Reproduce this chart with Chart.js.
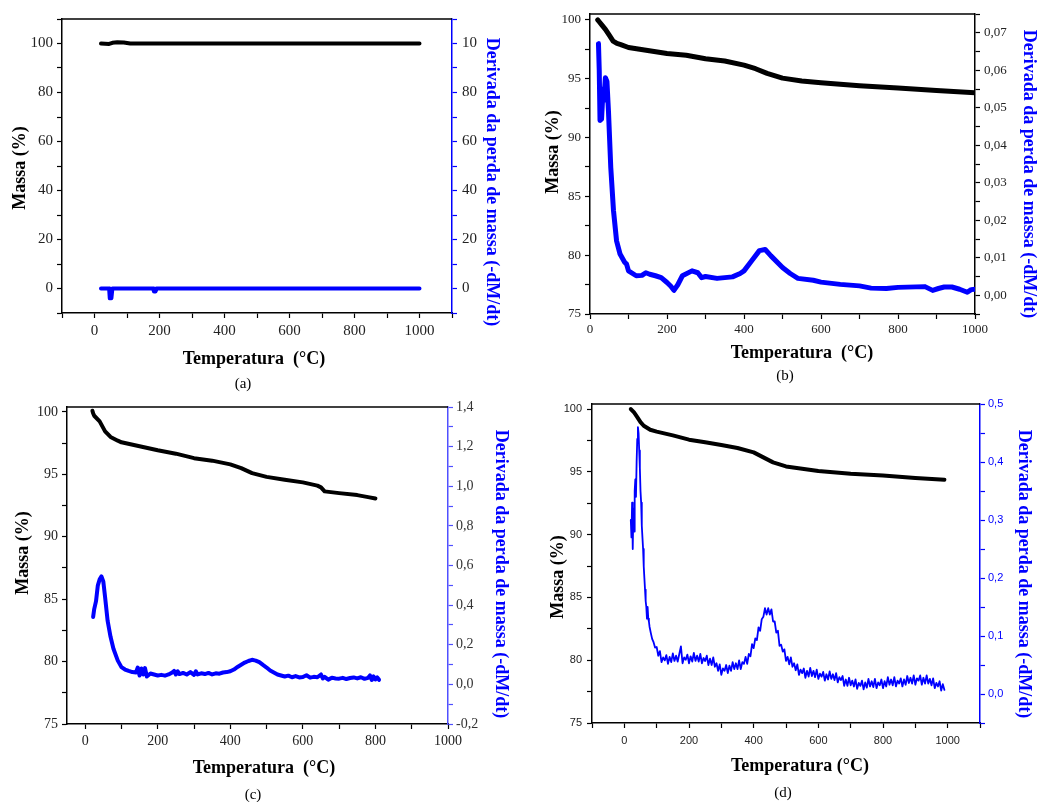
<!DOCTYPE html>
<html>
<head>
<meta charset="utf-8">
<script src="https://cdn.jsdelivr.net/npm/chart.js@4.4.1/dist/chart.umd.min.js"></script>
<style>
    body { margin: 0; background: #fff; width: 1040px; height: 802px; position: relative; overflow: hidden; font-family: "Liberation Serif", serif; }
    canvas { position: absolute; }
    .t { position: absolute; white-space: pre; transform: translate(-50%, -50%); font-weight: bold; font-size: 18px; color: #000; }
    .l { transform: translate(-50%, -50%) rotate(-90deg); }
    .r { transform: translate(-50%, -50%) rotate(90deg); color: #0000ff; }
    .cap { position: absolute; transform: translate(-50%, -50%); font-size: 15px; color: #000; }
</style>
</head>
<body>
<canvas id="chartA" width="520" height="350" style="left:0;top:0"></canvas>
<canvas id="chartB" width="520" height="350" style="left:520px;top:0"></canvas>
<canvas id="chartC" width="520" height="370" style="left:0;top:390px"></canvas>
<canvas id="chartD" width="520" height="370" style="left:520px;top:390px"></canvas>

<div class="t" style="left:254px;top:358px">Temperatura  (°C)</div>
<div class="cap" style="left:243px;top:383px">(a)</div>
<div class="t l" style="left:19px;top:168px">Massa (%)</div>
<div class="t r" style="left:492px;top:182px">Derivada da perda de massa (-dM/dt)</div>

<div class="t" style="left:802px;top:352px">Temperatura  (°C)</div>
<div class="cap" style="left:785px;top:375px">(b)</div>
<div class="t l" style="left:552px;top:152px">Massa (%)</div>
<div class="t r" style="left:1029px;top:174px">Derivada da perda de massa (-dM/dt)</div>

<div class="t" style="left:264px;top:767px">Temperatura  (°C)</div>
<div class="cap" style="left:253px;top:794px">(c)</div>
<div class="t l" style="left:22px;top:553px">Massa (%)</div>
<div class="t r" style="left:501px;top:574px">Derivada da perda de massa (-dM/dt)</div>

<div class="t" style="left:800px;top:765px">Temperatura (°C)</div>
<div class="cap" style="left:783px;top:792px">(d)</div>
<div class="t l" style="left:557px;top:577px">Massa (%)</div>
<div class="t r" style="left:1024px;top:574px">Derivada da perda de massa (-dM/dt)</div>

<script>
// (a)
const aMassTemp = [20, 45, 55, 70, 90, 110, 200, 400, 600, 800, 1000];
const aMass = [100, 99.8, 100.3, 100.5, 100.4, 100, 100, 100, 100, 100, 100];
const aDerivTemp = [20, 45, 47, 52, 55, 180, 183, 188, 191, 400, 600, 800, 1000];
const aDeriv = [0, 0, -4, -4, 0, 0, -1.2, -1.2, 0, 0, 0, 0, 0];

// (b)
const bMassTemp = [20, 25, 30, 40, 50, 60, 70, 80, 100, 150, 200, 250, 300, 350, 400, 430, 460, 500, 550, 600, 700, 800, 900, 1000];
const bMass = [100, 99.8, 99.6, 99.2, 98.7, 98.2, 98.0, 97.9, 97.65, 97.4, 97.15, 97.0, 96.7, 96.5, 96.15, 95.85, 95.45, 95.05, 94.8, 94.65, 94.4, 94.2, 94.0, 93.8];
const bDerivTemp = [22, 24, 26, 30, 34, 36, 40, 44, 48, 54, 61, 69, 78, 90, 95, 100, 120, 135, 145, 155,
    170, 185, 200, 210, 218, 228, 240, 265, 280, 290, 300, 330, 370, 390, 400, 420, 440, 455, 470, 500,
    520, 540, 580, 600, 650, 700, 730, 770, 800, 870, 890, 905, 920, 940, 960, 980, 990, 1000];
const bDeriv = [0.0671, 0.060, 0.0466, 0.047, 0.055, 0.052, 0.058, 0.057, 0.049, 0.034, 0.0226, 0.0145, 0.011, 0.0088, 0.0083, 0.0065, 0.0052, 0.0053, 0.006, 0.0056,
    0.0052, 0.0047, 0.0034, 0.0024, 0.0013, 0.0028, 0.0052, 0.0065, 0.006, 0.0047, 0.005, 0.0045, 0.0049, 0.0058, 0.0065, 0.0092, 0.0119, 0.0122, 0.0105, 0.0074,
    0.0058, 0.0045, 0.0040, 0.0035, 0.0029, 0.0025, 0.0019, 0.0018, 0.0021, 0.0023, 0.0013, 0.0018, 0.0022, 0.0022, 0.0016, 0.0008, 0.0015, 0.0016];

// (c)
const cMassTemp = [20, 22, 25, 40, 55, 70, 90, 100, 150, 200, 250, 300, 350, 400, 430, 460, 500, 550, 600, 640, 650, 660, 700, 750, 780, 800];
const cMass = [100.1, 99.9, 99.7, 99.25, 98.45, 98.0, 97.7, 97.57, 97.25, 96.93, 96.66, 96.3, 96.1, 95.8, 95.5, 95.1, 94.8, 94.57, 94.36, 94.1, 93.96, 93.64, 93.5, 93.34, 93.18, 93.07];
const cDerivTemp = [22, 25, 30, 35, 40, 45, 50, 55, 62, 70,
    78, 90, 100, 110, 120, 130, 140, 145, 150, 155,
    160, 165, 170, 180, 190, 200, 210, 220, 230, 240,
    245, 250, 255, 260, 270, 280, 290, 300, 305, 310,
    320, 330, 340, 350, 360, 370, 380, 390, 400, 410,
    420, 430, 440, 450, 460, 470, 480, 490, 500, 510,
    520, 530, 540, 550, 560, 570, 580, 590, 600, 610,
    620, 630, 640, 650, 655, 660, 670, 680, 690, 700,
    710, 720, 730, 740, 750, 760, 770, 780, 785, 790,
    795, 800, 805, 810];
const cDeriv = [0.34, 0.38, 0.42, 0.50, 0.53, 0.545, 0.52, 0.44, 0.32, 0.24,
    0.18, 0.12, 0.087, 0.075, 0.068, 0.062, 0.06, 0.085, 0.045, 0.08,
    0.05, 0.082, 0.04, 0.055, 0.05, 0.045, 0.048, 0.044, 0.05, 0.06,
    0.068, 0.05, 0.066, 0.052, 0.058, 0.05, 0.062, 0.048, 0.066, 0.05,
    0.056, 0.052, 0.058, 0.05, 0.056, 0.054, 0.06, 0.062, 0.066, 0.075,
    0.088, 0.099, 0.11, 0.118, 0.124, 0.12, 0.112, 0.098, 0.085, 0.07,
    0.06, 0.05, 0.045, 0.04, 0.044, 0.036, 0.042, 0.035, 0.037, 0.046,
    0.034, 0.038, 0.036, 0.05, 0.03, 0.038, 0.024, 0.034, 0.03, 0.029,
    0.033, 0.027, 0.032, 0.035, 0.03, 0.036, 0.028, 0.033, 0.045, 0.022,
    0.04, 0.025, 0.035, 0.023];

// (d)
const dMassTemp = [20, 30, 40, 50, 60, 80, 100, 150, 200, 250, 300, 350, 400, 430, 460, 500, 550, 600, 700, 800, 900, 990];
const dMass = [100, 99.73, 99.36, 98.96, 98.67, 98.35, 98.2, 97.9, 97.56, 97.35, 97.13, 96.9, 96.55, 96.15, 95.75, 95.43, 95.25, 95.06, 94.85, 94.7, 94.5, 94.37];
const dDerivTemp = [20, 22, 24, 26, 28, 30, 32, 34, 36, 38, 40, 42, 44, 46, 48, 50, 52, 54, 56, 58,
    60, 62, 64, 66, 68, 70, 72, 74, 76, 78, 82, 86, 90, 95,
    100, 105, 110, 115, 120, 125, 130, 135, 140, 145,
    150, 155, 160, 165, 170, 175, 180, 185, 190, 195,
    200, 205, 210, 215, 220, 225, 230, 235, 240, 245,
    250, 255, 260, 265, 270, 275, 280, 285, 290, 295,
    300, 305, 310, 315, 320, 325, 330, 335, 340, 345,
    350, 355, 360, 365, 370, 375, 380, 385, 390, 395,
    400, 405, 410, 415, 420, 425, 430, 435, 440, 445,
    450, 455, 460, 465, 470, 475, 480, 485, 490, 495,
    500, 505, 510, 515, 520, 525, 530, 535, 540, 545,
    550, 555, 560, 565, 570, 575, 580, 585, 590, 595,
    600, 605, 610, 615, 620, 625, 630, 635, 640, 645,
    650, 655, 660, 665, 670, 675, 680, 685, 690, 695,
    700, 705, 710, 715, 720, 725, 730, 735, 740, 745,
    750, 755, 760, 765, 770, 775, 780, 785, 790, 795,
    800, 805, 810, 815, 820, 825, 830, 835, 840, 845,
    850, 855, 860, 865, 870, 875, 880, 885, 890, 895,
    900, 905, 910, 915, 920, 925, 930, 935, 940, 945,
    950, 955, 960, 965, 970, 975, 980, 985, 990];
const dDeriv = [0.30, 0.27, 0.33, 0.25, 0.32, 0.28, 0.35, 0.37, 0.34, 0.40, 0.44, 0.46, 0.45, 0.42, 0.39, 0.35, 0.33, 0.29, 0.27, 0.25,
    0.22, 0.20, 0.18, 0.16, 0.15, 0.13, 0.15, 0.13, 0.125, 0.116, 0.105, 0.095, 0.09, 0.08,
    0.081, 0.066, 0.074, 0.055, 0.063, 0.058, 0.067, 0.052, 0.064, 0.055,
    0.070, 0.057, 0.066, 0.056, 0.069, 0.082, 0.053, 0.063, 0.059, 0.068,
    0.053, 0.065, 0.056, 0.071, 0.057, 0.066, 0.056, 0.069, 0.053, 0.062,
    0.057, 0.066, 0.050, 0.061, 0.050, 0.063, 0.047, 0.053, 0.040, 0.051,
    0.033, 0.044, 0.040, 0.050, 0.036, 0.049, 0.040, 0.055, 0.043, 0.053,
    0.043, 0.058, 0.043, 0.055, 0.052, 0.064, 0.052, 0.069, 0.065, 0.086,
    0.079, 0.096, 0.093, 0.115, 0.109, 0.129, 0.133, 0.148, 0.137, 0.148,
    0.137, 0.146, 0.125, 0.125, 0.106, 0.109, 0.083, 0.085, 0.073, 0.077,
    0.057, 0.064, 0.051, 0.063, 0.047, 0.053, 0.041, 0.051, 0.033, 0.042,
    0.036, 0.044, 0.028, 0.040, 0.030, 0.045, 0.031, 0.040, 0.029, 0.042,
    0.026, 0.035, 0.030, 0.038, 0.023, 0.034, 0.025, 0.039, 0.026, 0.034,
    0.024, 0.036, 0.020, 0.029, 0.024, 0.031, 0.014, 0.025, 0.014, 0.028,
    0.015, 0.023, 0.013, 0.025, 0.009, 0.019, 0.014, 0.023, 0.008, 0.020,
    0.011, 0.026, 0.013, 0.022, 0.012, 0.026, 0.010, 0.020, 0.015, 0.025,
    0.010, 0.022, 0.013, 0.029, 0.016, 0.025, 0.015, 0.029, 0.013, 0.023,
    0.018, 0.027, 0.013, 0.025, 0.016, 0.031, 0.019, 0.028, 0.018, 0.032,
    0.016, 0.027, 0.023, 0.032, 0.016, 0.028, 0.018, 0.032, 0.018, 0.026,
    0.015, 0.027, 0.010, 0.019, 0.013, 0.022, 0.006, 0.017, 0.007];

const BLUE = "#0000ff";
const serif = (size) => ({ family: "Liberation Serif", size: size });
const sans = (size) => ({ family: "Liberation Sans", size: size });

const near = (v, step) => Math.abs(v / step - Math.round(v / step)) < 1e-6;
const comma = (v, digits) => (Math.abs(v) < 1e-9 ? 0 : v).toFixed(digits).replace(".", ",");

// top edge of the box
const framePlugin = {
    id: "frame",
    afterDraw(chart) {
        const a = chart.chartArea;
        const ctx = chart.ctx;
        ctx.save();
        ctx.strokeStyle = "#000";
        ctx.lineWidth = 1.5;
        ctx.beginPath();
        ctx.moveTo(a.left, a.top);
        ctx.lineTo(a.right, a.top);
        ctx.stroke();
        ctx.restore();
    },
};

function axis(o) {
    return {
        type: "linear",
        position: o.pos,
        min: o.min,
        max: o.max,
        afterFit: (s) => {
            if (o.pos === "bottom") s.height = o.size;
            else s.width = o.size;
        },
        border: { display: true, color: o.line, width: 1.5 },
        grid: { drawOnChartArea: false, drawTicks: true, tickLength: 5, tickColor: o.line, tickWidth: 1.2 },
        ticks: {
            stepSize: o.step,
            includeBounds: false,
            autoSkip: false,
            maxRotation: 0,
            padding: o.pad,
            color: o.color,
            font: o.font,
            callback: o.label,
        },
    };
}

function line(xs, ys, axisId, color, width) {
    return {
        data: xs.map((x, i) => ({ x: x, y: ys[i] })),
        yAxisID: axisId,
        showLine: true,
        borderColor: color,
        backgroundColor: color,
        borderWidth: width,
        borderJoinStyle: "round",
        borderCapStyle: "round",
        pointRadius: 0,
        tension: 0,
    };
}

function createChart(id, padTop, datasets, x, y, y1) {
    return new Chart(document.getElementById(id).getContext("2d"), {
        type: "scatter",
        data: { datasets },
        options: {
            responsive: false,
            animation: false,
            devicePixelRatio: 1,
            layout: { padding: { top: padTop, left: 0, right: 0, bottom: 0 } },
            plugins: { legend: { display: false }, tooltip: { enabled: false } },
            scales: { x: axis(x), y: axis(y), y1: axis(y1) },
        },
        plugins: [framePlugin],
    });
}

// (a)
createChart(
    "chartA",
    19,
    [line(aMassTemp, aMass, "y", "#000", 4), line(aDerivTemp, aDeriv, "y1", BLUE, 4)],
    { pos: "bottom", min: -100, max: 1100, step: 100, size: 37, pad: 4, line: "#000", color: "#222", font: serif(15),
      label: (v) => (v >= 0 && v <= 1000 && near(v, 200) ? v : "") },
    { pos: "left", min: -10, max: 110, step: 10, size: 62, pad: 4, line: "#000", color: "#222", font: serif(15),
      label: (v) => (v >= 0 && v <= 100 && near(v, 20) ? v : "") },
    { pos: "right", min: -10, max: 110, step: 10, size: 68, pad: 5, line: BLUE, color: "#222", font: serif(15),
      label: (v) => (v >= 0 && v <= 100 && near(v, 20) ? (v === 100 ? "10" : v) : "") }
);

// (b)
createChart(
    "chartB",
    14,
    [line(bMassTemp, bMass, "y", "#000", 5), line(bDerivTemp, bDeriv, "y1", BLUE, 5)],
    { pos: "bottom", min: 0, max: 1000, step: 100, size: 36, pad: 3, line: "#000", color: "#222", font: serif(13),
      label: (v) => (near(v, 200) ? v : "") },
    { pos: "left", min: 75, max: 100.5, step: 2.5, size: 70, pad: 4, line: "#000", color: "#222", font: serif(13),
      label: (v) => (near(v, 5) ? Math.round(v) : "") },
    { pos: "right", min: -0.005, max: 0.075, step: 0.005, size: 65, pad: 4, line: "#000", color: "#222", font: serif(13),
      label: (v) => (v >= -1e-9 && near(v, 0.01) ? comma(v, 2) : "") }
);

// (c)
createChart(
    "chartC",
    17,
    [line(cMassTemp, cMass, "y", "#000", 4), line(cDerivTemp, cDeriv, "y1", BLUE, 4)],
    { pos: "bottom", min: -50, max: 1000, step: 100, size: 36, pad: 4, line: "#000", color: "#222", font: serif(14),
      label: (v) => (v >= 0 && near(v, 200) ? v : "") },
    { pos: "left", min: 75, max: 100.4, step: 2.5, size: 67, pad: 4, line: "#000", color: "#222", font: serif(14),
      label: (v) => (near(v, 5) ? Math.round(v) : "") },
    { pos: "right", min: -0.2, max: 1.4, step: 0.1, size: 72, pad: 3, line: "#5050ff", color: "#333", font: serif(14),
      label: (v) => (near(v, 0.2) ? comma(v, 1) : "") }
);

// (d)
createChart(
    "chartD",
    14,
    [line(dMassTemp, dMass, "y", "#000", 4), line(dDerivTemp, dDeriv, "y1", BLUE, 1.8)],
    { pos: "bottom", min: -100, max: 1100, step: 100, size: 37, pad: 6, line: "#000", color: "#222", font: sans(11),
      label: (v) => (v >= 0 && v <= 1000 && near(v, 200) ? v : "") },
    { pos: "left", min: 75, max: 100.4, step: 2.5, size: 72, pad: 5, line: "#000", color: "#222", font: sans(11),
      label: (v) => (near(v, 5) ? Math.round(v) : "") },
    { pos: "right", min: -0.05, max: 0.5, step: 0.05, size: 60, pad: 3, line: BLUE, color: BLUE, font: sans(11),
      label: (v) => (v >= -1e-9 && near(v, 0.1) ? comma(v, 1) : "") }
);
</script>
</body>
</html>
